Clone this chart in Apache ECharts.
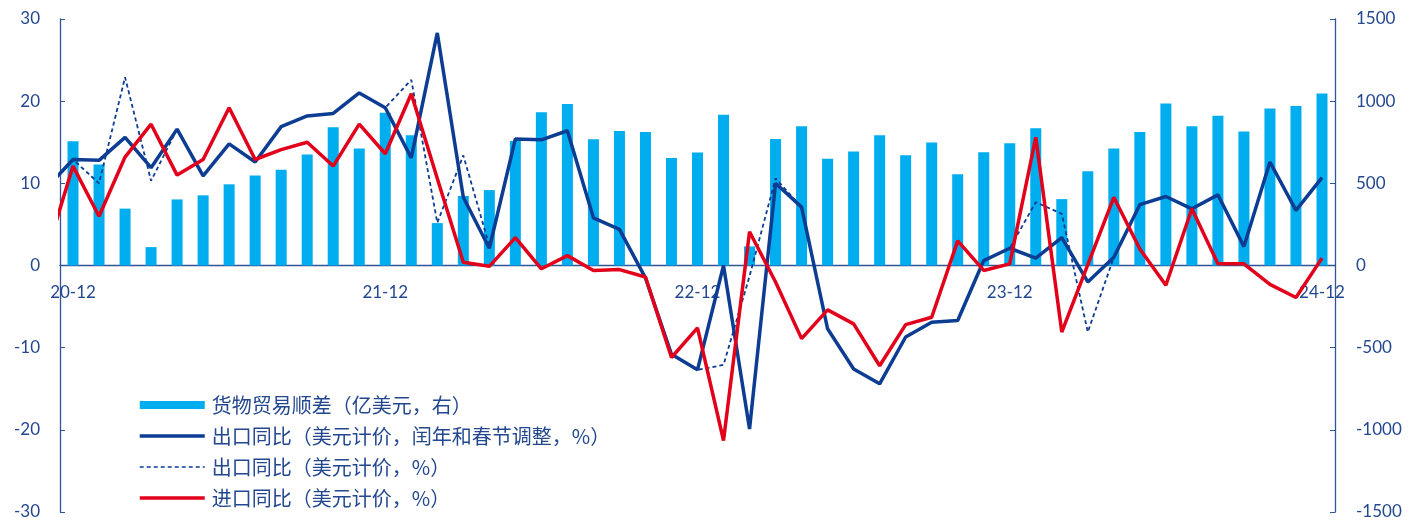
<!DOCTYPE html>
<html>
<head>
<meta charset="utf-8">
<script src="https://cdn.jsdelivr.net/npm/echarts@6/dist/echarts.min.js"></script>
<style>
html, body { margin: 0; padding: 0; background: #fff; }
#chart { width: 1422px; height: 521px; }
</style>
</head>
<body>
<div id="chart"></div>
<script>
// months for the lines: the first one (20-11) sits just left of the plot and is clipped
const lineMonths = [
    '20-11', '20-12',
    '21-01', '21-02', '21-03', '21-04', '21-05', '21-06', '21-07', '21-08', '21-09', '21-10', '21-11', '21-12',
    '22-01', '22-02', '22-03', '22-04', '22-05', '22-06', '22-07', '22-08', '22-09', '22-10', '22-11', '22-12',
    '23-01', '23-02', '23-03', '23-04', '23-05', '23-06', '23-07', '23-08', '23-09', '23-10', '23-11', '23-12',
    '24-01', '24-02', '24-03', '24-04', '24-05', '24-06', '24-07', '24-08', '24-09', '24-10', '24-11', '24-12'
]
const months = lineMonths.slice(1)
const xLabels = ['20-12', '21-12', '22-12', '23-12', '24-12']

// 货物贸易顺差, 亿美元 (20-12 .. 24-12)
const tradeSurplus = [
    756, 614, 346, 112, 402, 427, 494, 547, 582, 675, 842, 712,
    929, 793, 258, 423, 459, 758, 933, 982, 768, 819, 813, 654,
    687, 917, 116, 770, 848, 650, 693, 793, 671, 748, 555, 689,
    744, 835, 404, 573, 712, 813, 986, 848, 911, 815, 955, 971,
    1047
]
// 出口同比, 闰年和春节调整 (20-11 .. 24-12)
const exportAdj = [
    9.5,
    12.9, 12.8, 15.6, 11.9, 16.6, 10.9, 14.8, 12.6, 16.9, 18.2, 18.5, 21.0,
    19.2, 13.1, 28.3, 8.3, 2.1, 15.4, 15.3, 16.4, 5.8, 4.4, -1.5, -10.8,
    -12.7, 0.0, -19.9, 10.0, 7.1, -7.7, -12.6, -14.4, -8.7, -6.9, -6.7, 0.6,
    2.1, 0.9, 3.4, -2.0, 1.0, 7.4, 8.4, 6.9, 8.6, 2.3, 12.6, 6.7,
    10.7
]
// 出口同比, 未调整 (20-11 .. 24-12)
const exportRaw = [
    9.5,
    12.9, 10.0, 22.9, 10.3, 16.6, 10.9, 14.8, 12.6, 16.9, 18.2, 18.5, 21.0,
    19.2, 22.6, 5.2, 13.4, 2.4, 15.4, 15.3, 16.4, 5.8, 4.4, -1.5, -10.8,
    -12.7, -12.1, -1.3, 10.6, 7.1, -7.7, -12.6, -14.4, -8.7, -6.9, -6.7, 0.6,
    2.1, 7.7, 6.3, -8.1, 1.0, 7.4, 8.4, 6.9, 8.6, 2.3, 12.6, 6.7,
    10.7
]
// 进口同比 (20-11 .. 24-12)
const importYoy = [
    1.7,
    12.1, 6.0, 13.2, 17.2, 11.0, 12.9, 19.2, 12.9, 14.1, 15.0, 12.1, 17.2,
    13.6, 20.9, 10.6, 0.4, -0.1, 3.4, -0.4, 1.2, -0.6, -0.5, -1.4, -11.2,
    -7.6, -21.3, 4.1, -2.0, -8.9, -5.4, -7.1, -12.2, -7.2, -6.3, 3.0, -0.6,
    0.2, 15.6, -8.1, 0.1, 8.3, 2.0, -2.4, 6.9, 0.2, 0.2, -2.3, -3.9,
    0.9
]

const axisColor = '#2f5597'
const textColor = '#23488f'
const blue = '#0d3d92'
const red = '#e2001a'
const numFont = 'Lato'

const gridTop = 19
const gridBottom = 9
const chartHeight = 521

// line points on a hidden value axis so the 20-11 point can be clipped at the left edge
const toPoints = arr => arr.map((v, i) => [i - 1, v])
const noDot = { opacity: 0 }

const chart = echarts.init(document.getElementById('chart'))
// the label axis sits at the bottom and is lifted up to the zero line
const zeroLift = (chartHeight - gridTop - gridBottom) / 2

chart.setOption({
    animation: false,
    grid: { left: 60, right: 87, top: gridTop, bottom: gridBottom, containLabel: false, outerBoundsMode: 'none' },
    legend: {
        orient: 'vertical',
        left: 138,
        top: 395,
        padding: 0,
        itemWidth: 65,
        itemHeight: 8,
        itemGap: 11,
        data: [
            { name: '货物贸易顺差（亿美元，右）', icon: 'rect' },
            { name: '出口同比（美元计价，闰年和春节调整，%）', itemStyle: noDot, lineStyle: { width: 3.5 } },
            { name: '出口同比（美元计价，%）', itemStyle: noDot, lineStyle: { width: 1.6 } },
            { name: '进口同比（美元计价，%）', itemStyle: noDot, lineStyle: { width: 3.5 } }
        ],
        textStyle: {
            fontFamily: 'Noto Sans CJK SC',
            fontSize: 20,
            lineHeight: 20,
            color: textColor,
            padding: [0, 0, 0, 2]
        }
    },
    xAxis: [
        {
            type: 'category',
            data: months,
            boundaryGap: true,
            axisLine: { onZero: true, onZeroAxisIndex: 0, lineStyle: { color: axisColor, width: 1.3 } },
            axisTick: { inside: true, length: 4, interval: 0, lineStyle: { color: axisColor } },
            axisLabel: { show: false },
            splitLine: { show: false }
        },
        { type: 'value', min: -0.5, max: 48.5, show: false },
        {
            // year labels and the longer year ticks
            type: 'category',
            data: months,
            boundaryGap: true,
            position: 'bottom',
            offset: -zeroLift,
            axisLine: { show: false, onZero: false },
            axisTick: {
                length: 7,
                interval: (i, v) => xLabels.includes(v),
                lineStyle: { color: axisColor, width: 1.3 }
            },
            axisLabel: {
                interval: (i, v) => xLabels.includes(v),
                margin: 19,
                color: textColor,
                fontSize: 17,
                fontFamily: numFont
            },
            splitLine: { show: false }
        }
    ],
    yAxis: [
        {
            type: 'value',
            min: -30, max: 30, interval: 10,
            position: 'left',
            axisLine: { show: true, onZero: false, lineStyle: { color: axisColor, width: 1.3 } },
            axisTick: { show: true, inside: true, length: 5, lineStyle: { color: axisColor } },
            axisLabel: { margin: 20, color: textColor, fontSize: 17, fontFamily: numFont },
            splitLine: { show: false }
        },
        {
            type: 'value',
            min: -1500, max: 1500, interval: 500,
            position: 'right',
            axisLine: { show: true, onZero: false, lineStyle: { color: axisColor, width: 1.3 } },
            axisTick: { show: true, inside: true, length: 5, lineStyle: { color: axisColor } },
            axisLabel: {
                margin: 21, color: textColor, fontSize: 17, fontFamily: numFont,
                formatter: v => String(v)
            },
            splitLine: { show: false }
        }
    ],
    series: [
        {
            name: '货物贸易顺差（亿美元，右）',
            type: 'bar',
            xAxisIndex: 0,
            yAxisIndex: 1,
            data: tradeSurplus,
            barWidth: 11,
            itemStyle: { color: '#00aeef' }
        },
        {
            name: '出口同比（美元计价，%）',
            type: 'line',
            xAxisIndex: 1,
            yAxisIndex: 0,
            data: toPoints(exportRaw),
            symbol: 'none',
            lineStyle: { color: blue, width: 1.8, type: [4, 3] },
            itemStyle: { color: blue }
        },
        {
            name: '出口同比（美元计价，闰年和春节调整，%）',
            type: 'line',
            xAxisIndex: 1,
            yAxisIndex: 0,
            data: toPoints(exportAdj),
            symbol: 'none',
            lineStyle: { color: blue, width: 3.5 },
            itemStyle: { color: blue }
        },
        {
            name: '进口同比（美元计价，%）',
            type: 'line',
            xAxisIndex: 1,
            yAxisIndex: 0,
            data: toPoints(importYoy),
            symbol: 'none',
            lineStyle: { color: red, width: 3.5 },
            itemStyle: { color: red }
        }
    ]
})
</script>
</body>
</html>
